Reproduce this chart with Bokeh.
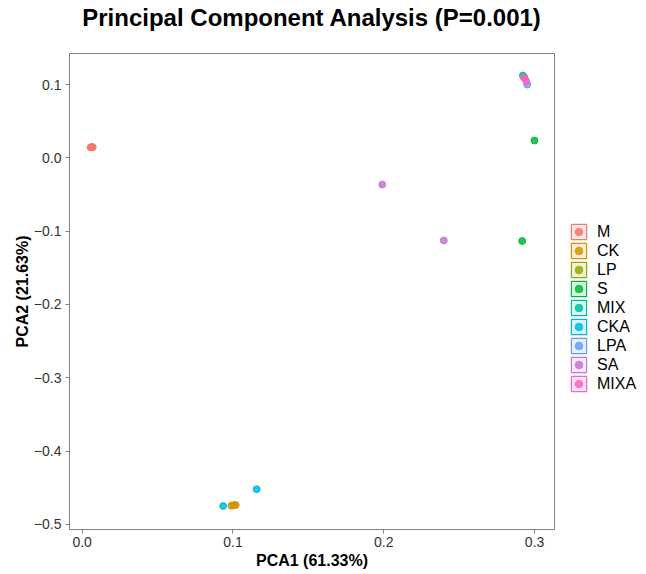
from bokeh.plotting import figure
from bokeh.models import Legend, LegendItem, FixedTicker, ColumnDataSource, Range1d, Title
from bokeh.embed import file_html
from bokeh.resources import INLINE

groups = ["M", "CK", "LP", "S", "MIX", "CKA", "LPA", "SA", "MIXA"]
colors = ["#F8766D", "#D39200", "#93AA00", "#00BA38", "#00C19F",
          "#00B9E3", "#619CFF", "#C477CF", "#FF61C3"]

pc1 = {
    "M":    [0.0056, 0.0064, 0.0070],
    "CK":   [0.0990, 0.1005, 0.1018],
    "LP":   [0.2928, 0.2933],
    "S":    [0.2999, 0.2918],
    "MIX":  [0.2922],
    "CKA":  [0.0935, 0.1157],
    "LPA":  [0.2951],
    "SA":   [0.1990, 0.2398],
    "MIXA": [0.2929, 0.2945],
}
pc2 = {
    "M":    [0.0143, 0.0146, 0.0144],
    "CK":   [-0.4745, -0.4738, -0.4735],
    "LP":   [0.1105, 0.1098],
    "S":    [0.0236, -0.1135],
    "MIX":  [0.1123],
    "CKA":  [-0.4750, -0.4520],
    "LPA":  [0.1000],
    "SA":   [-0.0365, -0.1128],
    "MIXA": [0.1096, 0.1045],
}

x_ticks = [0.0, 0.1, 0.2, 0.3]
y_ticks = [-0.5, -0.4, -0.3, -0.2, -0.1, 0.0, 0.1]

FONT = "Liberation Sans"

p = figure(frame_width=485, frame_height=476,
           x_range=Range1d(-0.0084, 0.3132), y_range=Range1d(-0.507, 0.1423),
           output_backend="svg", toolbar_location=None,
           min_border_left=69, min_border_right=92,
           min_border_top=53, min_border_bottom=45,
           title="Principal Component Analysis (P=0.001)")

p.title.text_font = FONT
p.title.text_font_size = "24px"
p.title.text_font_style = "bold"
p.title.align = "center"
p.title.text_color = "black"
p.title.standoff = 2

# empty spacer between title and plot frame
p.add_layout(Title(text=" ", text_font=FONT, text_font_size="12px", standoff=6), "above")

p.xgrid.visible = False
p.ygrid.visible = False
p.outline_line_color = "#808080"
p.outline_line_width = 1
p.background_fill_color = "white"
p.border_fill_color = "white"

for ax in (p.xaxis[0], p.yaxis[0]):
    ax.axis_line_color = None
    ax.major_tick_line_color = "#808080"
    ax.major_tick_out = 4
    ax.major_tick_in = 0
    ax.minor_tick_line_color = None
    ax.major_label_text_font = FONT
    ax.major_label_text_font_size = "14px"
    ax.major_label_text_color = "#333333"
    ax.axis_label_text_font = FONT
    ax.axis_label_text_font_size = "16px"
    ax.axis_label_text_font_style = "bold"
    ax.axis_label_text_color = "black"

p.xaxis.ticker = FixedTicker(ticks=x_ticks)
p.yaxis.ticker = FixedTicker(ticks=y_ticks)
p.xaxis.major_label_overrides = {t: ("%.1f" % t).replace("-", "\u2212") for t in x_ticks}
p.yaxis.major_label_overrides = {t: ("%.1f" % t).replace("-", "\u2212") for t in y_ticks}
p.xaxis.axis_label = "PCA1 (61.33%)"
p.yaxis.axis_label = "PCA2 (21.63%)"
p.xaxis.major_label_standoff = 3
p.yaxis.major_label_standoff = 4
p.xaxis.axis_label_standoff = 2
p.yaxis.axis_label_standoff = 0

items = []
for g, c in zip(groups, colors):
    src = ColumnDataSource(dict(x=pc1[g], y=pc2[g]))
    box = p.rect("x", "y", width=0.01, height=0.01, source=src,
                 fill_color=c, fill_alpha=0.15, line_color=c, line_width=1.2,
                 visible=False)
    pts = p.scatter("x", "y", source=src, size=7, fill_color=c, line_color=c,
                    fill_alpha=0.85, line_alpha=0.85)
    items.append(LegendItem(label=g, renderers=[box, pts]))

legend = Legend(items=items, location=(15, 136),
                glyph_width=19, glyph_height=19, label_height=19,
                spacing=0, label_standoff=9, padding=0, margin=0,
                border_line_color=None, background_fill_alpha=0,
                label_text_font=FONT, label_text_font_size="16px",
                label_text_color="black", click_policy="none")
p.add_layout(legend, "right")

open("out.html", "w").write(file_html(p, INLINE))
